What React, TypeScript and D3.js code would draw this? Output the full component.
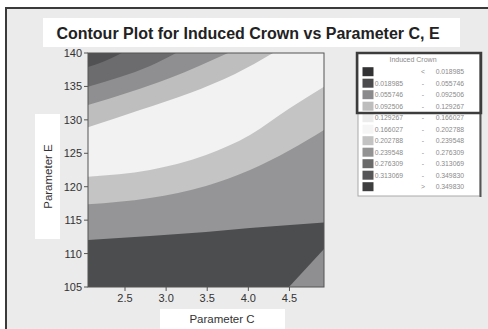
import React from "react";
import * as d3 from "d3";

const W = 488;
const H = 329;

const xTicks = [2.5, 3.0, 3.5, 4.0, 4.5];
const yTicks = [105, 110, 115, 120, 125, 130, 135, 140];
const xDomain = [2.05, 4.92];
const yDomain = [105, 140];

// contour boundaries, as [C, E] points
const topB1 = [[2.05, 137.9], [2.257, 138.8], [2.46, 140]];
const topB2 = [[2.05, 134.96], [2.44, 136.41], [2.804, 138.06], [3.12, 140]];
const topB3 = [[2.05, 132.22], [2.56, 134.17], [3.047, 136.26], [3.753, 140]];
const topB4 = [[2.05, 128.89], [2.682, 131.47], [3.29, 134.02], [3.838, 136.86], [4.3, 140]];
const lowB5 = [[2.05, 121.5], [2.804, 122.5], [3.485, 124.74], [4.02, 127.74], [4.507, 131.77], [4.92, 134.96]];
const lowB6 = [[2.05, 117.37], [2.804, 118.31], [3.485, 120.11], [4.02, 122.5], [4.507, 125.49], [4.92, 128.48]];
const lowB7 = [[2.05, 112.03], [2.804, 112.63], [3.485, 113.23], [4.02, 113.82], [4.507, 114.27], [4.92, 114.65]];
const cornerB8 = [[4.494, 105], [4.92, 110.7]];

const bandFill = {
  base: "#f2f2f2",
  top4: "#bebebe",
  top3: "#8f8f91",
  top2: "#6c6c6e",
  top1: "#515153",
  low5: "#c4c4c4",
  low6: "#959597",
  low7: "#4c4d4f",
  corner: "#8f8f91",
};

const legendTitle = "Induced Crown";
const legendLow = ["", "0.018985", "0.055746", "0.092506", "0.129267", "0.166027", "0.202788", "0.239548", "0.276309", "0.313069", ""];
const legendMid = ["<", "-", "-", "-", "-", "-", "-", "-", "-", "-", ">"];
const legendHigh = ["0.018985", "0.055746", "0.092506", "0.129267", "0.166027", "0.202788", "0.239548", "0.276309", "0.313069", "0.349830", "0.349830"];
const legendColors = ["#323234", "#4b4b4d", "#8a8a8c", "#bdbdbd", "#ececec", "#f5f5f5", "#c3c3c3", "#939393", "#6a6a6a", "#555557", "#3e3e40"];

export default function App() {
  const x = d3.scaleLinear().domain(xDomain).range([88, 324]);
  const y = d3.scaleLinear().domain(yDomain).range([287, 53]);
  const line = d3
    .line<number[]>()
    .x((d) => x(d[0]))
    .y((d) => y(d[1]))
    .curve(d3.curveMonotoneX);

  const [x0, x1] = x.range();
  const [y0, y1] = y.range(); // y0 bottom, y1 top

  const aboveLeftTop = (pts: number[][]) => `${line(pts)}L${x0},${y1}Z`;
  const belowLeftRight = (pts: number[][]) => `${line(pts)}L${x1},${y0}L${x0},${y0}Z`;
  const cornerPath = (pts: number[][]) => `${line(pts)}L${x1},${y0}Z`;

  const font = "'Liberation Sans', Arial, sans-serif";

  return (
    <svg width={W} height={H} style={{ position: "absolute", left: 0, top: 0 }}>
      <rect x={0} y={0} width={W} height={H} fill="#ffffff" />
      <rect x={6} y={8} width={W} height={H} fill="#ebebeb" stroke="#3a3a3a" strokeWidth={2} />

      {/* title */}
      <rect x={43} y={18} width={417} height={29} fill="#ffffff" />
      <text x={248} y={39} textAnchor="middle" fontFamily={font} fontWeight="bold" fontSize={16} fill="#222">
        Contour Plot for Induced Crown vs Parameter C, E
      </text>

      {/* plot */}
      <defs>
        <clipPath id="plotclip">
          <rect x={x0} y={y1} width={x1 - x0} height={y0 - y1} />
        </clipPath>
      </defs>
      <g clipPath="url(#plotclip)">
        <rect x={x0} y={y1} width={x1 - x0} height={y0 - y1} fill={bandFill.base} />
        <path d={aboveLeftTop(topB4)} fill={bandFill.top4} />
        <path d={aboveLeftTop(topB3)} fill={bandFill.top3} />
        <path d={aboveLeftTop(topB2)} fill={bandFill.top2} />
        <path d={aboveLeftTop(topB1)} fill={bandFill.top1} />
        <path d={belowLeftRight(lowB5)} fill={bandFill.low5} />
        <path d={belowLeftRight(lowB6)} fill={bandFill.low6} />
        <path d={belowLeftRight(lowB7)} fill={bandFill.low7} />
        <path d={cornerPath(cornerB8)} fill={bandFill.corner} />
      </g>
      <rect x={x0} y={y1} width={x1 - x0} height={y0 - y1} fill="none" stroke="#555" strokeWidth={1} />

      {/* y axis */}
      {yTicks.map((t) => (
        <g key={"y" + t}>
          <line x1={x0 - 4} x2={x0} y1={y(t)} y2={y(t)} stroke="#555" />
          <text x={x0 - 6} y={y(t) + 4} textAnchor="end" fontFamily={font} fontSize={11} fill="#333">
            {t}
          </text>
        </g>
      ))}
      {/* x axis */}
      {xTicks.map((t) => (
        <g key={"x" + t}>
          <line x1={x(t)} x2={x(t)} y1={y0} y2={y0 + 4} stroke="#555" />
          <text x={x(t)} y={y0 + 15} textAnchor="middle" fontFamily={font} fontSize={11} fill="#333">
            {d3.format(".1f")(t)}
          </text>
        </g>
      ))}

      {/* axis titles */}
      <rect x={35} y={114} width={25} height={125} fill="#ffffff" />
      <text
        transform={`translate(51.5,176.5) rotate(-90)`}
        textAnchor="middle"
        fontFamily={font}
        fontSize={11.5}
        fill="#333"
      >
        Parameter E
      </text>
      <rect x={160} y={309} width={125} height={25} fill="#ffffff" />
      <text x={222} y={323} textAnchor="middle" fontFamily={font} fontSize={11.5} fill="#333">
        Parameter C
      </text>

      {/* legend */}
      <rect x={358} y={53} width={122} height={143} fill="#ffffff" stroke="#aaaaaa" strokeWidth={1} />
      <line x1={480.5} x2={480.5} y1={53} y2={197} stroke="#555" strokeWidth={2} />
      <text x={413} y={62} textAnchor="middle" fontFamily={font} fontSize={7} fill="#8a8a8a">
        {legendTitle}
      </text>
      {legendColors.map((c, i) => {
        const cy = 71.7 + i * 11.5;
        return (
          <g key={"lg" + i}>
            <rect x={362.5} y={cy - 4.5} width={11} height={9} fill={c} />
            <text x={403} y={cy + 2.5} textAnchor="end" fontFamily={font} fontSize={6.8} fill="#8a8a8a">
              {legendLow[i]}
            </text>
            <text x={423} y={cy + 2.5} textAnchor="middle" fontFamily={font} fontSize={6.8} fill="#8a8a8a">
              {legendMid[i]}
            </text>
            <text x={464} y={cy + 2.5} textAnchor="end" fontFamily={font} fontSize={6.8} fill="#8a8a8a">
              {legendHigh[i]}
            </text>
          </g>
        );
      })}
      <rect x={357} y={53} width={124} height={60} fill="none" stroke="#3c3c3c" strokeWidth={2.5} />
    </svg>
  );
}
